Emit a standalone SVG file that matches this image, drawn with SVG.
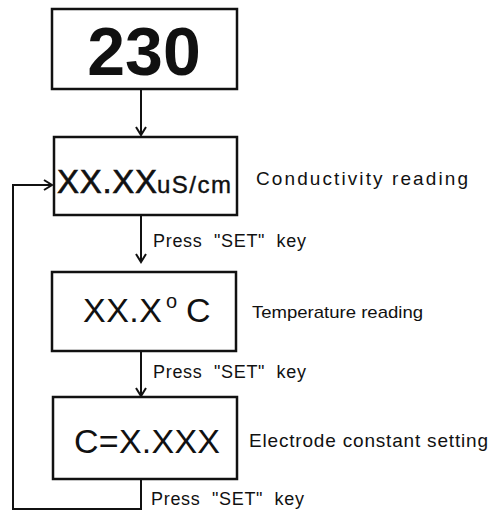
<svg xmlns="http://www.w3.org/2000/svg" width="491" height="512" viewBox="0 0 491 512">
<style>
.box{fill:#fff;stroke:#111;stroke-width:2.5}
.con{fill:none;stroke:#111;stroke-width:2}
.t{font-family:"Liberation Sans",Arial,sans-serif;fill:#111}
.pre{white-space:pre}
</style>
<defs>
<marker id="ah" markerWidth="12" markerHeight="12" refX="10" refY="6" orient="auto" markerUnits="userSpaceOnUse">
<path d="M2,1 L10,6 L2,11" fill="none" stroke="#111" stroke-width="2"/>
</marker>
</defs>
<rect width="491" height="512" fill="#fff"/>
<g id="connectors">
<line class="con" x1="141" y1="89" x2="141" y2="135" marker-end="url(#ah)"/>
<line class="con" x1="141" y1="215" x2="141" y2="262" marker-end="url(#ah)"/>
<line class="con" x1="141" y1="351" x2="141" y2="396" marker-end="url(#ah)"/>
<polyline class="con" points="141,479 141,509 13,509 13,185 52,185" marker-end="url(#ah)"/>
<text class="t pre" xml:space="preserve" x="153" y="247" font-size="18" textLength="153" lengthAdjust="spacing">Press  "SET"  key</text>
<text class="t pre" xml:space="preserve" x="153" y="378" font-size="18" textLength="153" lengthAdjust="spacing">Press  "SET"  key</text>
<text class="t pre" xml:space="preserve" x="151" y="505" font-size="18" textLength="153" lengthAdjust="spacing">Press  "SET"  key</text>
</g>
<g id="n230">
<rect class="box" x="52" y="9" width="185" height="80"/>
<text class="t" x="144" y="75" font-size="68" font-weight="bold" text-anchor="middle">230</text>
</g>
<g id="nCond">
<rect class="box" x="54" y="137" width="183" height="78"/>
<text class="t" x="57" y="193" font-size="33" stroke="#111" stroke-width="0.6" textLength="100">XX.XX</text>
<text class="t" x="157" y="193" font-size="24" stroke="#111" stroke-width="0.4" textLength="74">uS/cm</text>
<text class="t" x="256" y="185" font-size="19" textLength="212" lengthAdjust="spacing">Conductivity reading</text>
</g>
<g id="nTemp">
<rect class="box" x="52" y="272" width="184" height="79"/>
<text class="t" x="83" y="322" font-size="34" textLength="79">XX.X</text>
<text class="t" x="166" y="308" font-size="20">o</text>
<text class="t" x="186" y="322" font-size="34">C</text>
<text class="t" x="252" y="318" font-size="17" textLength="171" lengthAdjust="spacingAndGlyphs">Temperature reading</text>
</g>
<g id="nConst">
<rect class="box" x="53" y="397" width="184" height="82"/>
<text class="t" x="74" y="453" font-size="34" textLength="146">C=X.XXX</text>
<text class="t" x="249" y="447" font-size="19" textLength="239" lengthAdjust="spacing">Electrode constant setting</text>
</g>
</svg>
